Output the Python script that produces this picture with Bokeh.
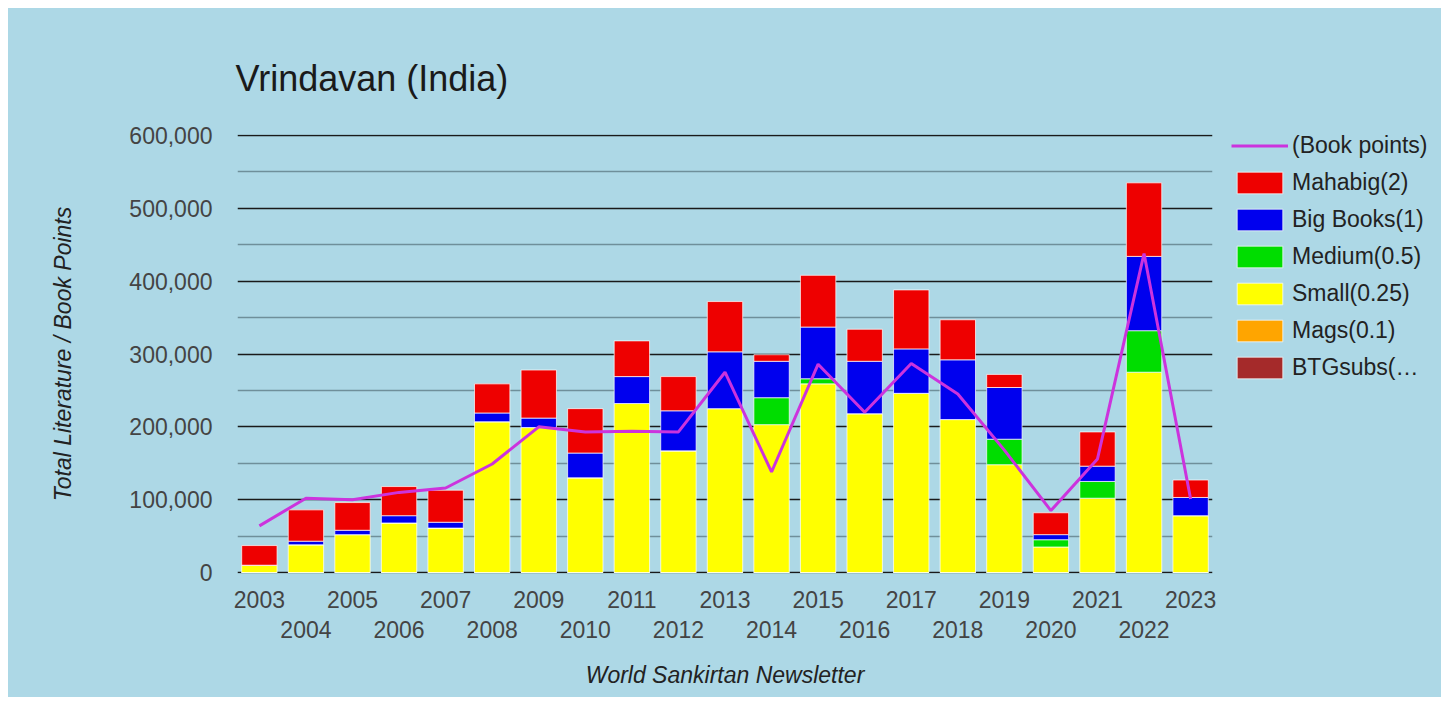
from bokeh.plotting import figure
from bokeh.layouts import row
from bokeh.models import (ColumnDataSource, Range1d, LinearAxis, FixedTicker,
                          NumeralTickFormatter, Legend, LegendItem)
from bokeh.embed import file_html
from bokeh.resources import INLINE

# ---------------- data ----------------
years = list(range(2003, 2024))
year_labels = [str(y) for y in years]
btgsubs = [0] * 21
mags = [0] * 21
small = [10000, 38000, 52000, 68000, 61000, 207000, 199000, 130000, 232000, 167000,
         225000, 203000, 259000, 218000, 246000, 210000, 148000, 35000, 102000, 275000, 78000]
medium = [0, 0, 0, 0, 0, 0, 0, 0, 0, 0,
          0, 37000, 7000, 0, 0, 0, 35000, 10000, 23000, 57000, 0]
big_books = [0, 5000, 6000, 10000, 8000, 12000, 13000, 34000, 37000, 55000,
             78000, 50000, 71000, 72000, 61000, 82000, 71000, 7000, 21000, 102000, 25000]
mahabig = [27000, 43000, 38000, 40000, 44000, 40000, 66000, 61000, 49000, 47000,
           69000, 9000, 71000, 44000, 81000, 55000, 18000, 30000, 47000, 101000, 24000]
book_points = [64000, 102000, 100000, 110000, 116000, 149000, 200000, 193000, 194000, 193000,
               275000, 138000, 286000, 220000, 287000, 245000, 168000, 85000, 156000, 438000, 101000]

series_keys = ["btgsubs", "mags", "small", "medium", "big_books", "mahabig"]
series_names = ["BTGsubs(\u2026", "Mags(0.1)", "Small(0.25)", "Medium(0.5)", "Big Books(1)", "Mahabig(2)"]
series_colors = ["#a52a2a", "#ffa500", "#ffff00", "#00dd00", "#0000ee", "#ee0000"]
line_name = "(Book points)"
line_color = "#cc33dd"
y_ticks = [0, 100000, 200000, 300000, 400000, 500000, 600000]
y_minor = [50000, 150000, 250000, 350000, 450000, 550000]

source = ColumnDataSource(dict(x=years, btgsubs=btgsubs, mags=mags, small=small, medium=medium,
                               big_books=big_books, mahabig=mahabig, points=book_points))

BG = "#add8e6"
FONT = "Liberation Sans"

# one pixel of slack above 600,000 and below 0 so that the edge grid lines are not clipped
px = 600000 / 437
p = figure(width=1214, height=689, output_backend="svg", toolbar_location=None,
           x_axis_location=None, margin=(8, 0, 8, 8), styles={"background-color": BG},
           x_range=Range1d(2002.53, 2023.47), y_range=Range1d(-px, 600000 + px),
           min_border_left=229, min_border_right=10, min_border_top=126, min_border_bottom=124,
           background_fill_color=BG, border_fill_color=BG, outline_line_color=None)

# title
p.title.text = "Vrindavan (India)"
p.title.text_font = FONT
p.title.text_font_size = "36px"
p.title.text_font_style = "normal"
p.title.text_color = "#1a1a1a"
p.title.standoff = 72
p.title.offset = -2

# y axis
yt = FixedTicker(ticks=y_ticks, minor_ticks=y_minor)
p.yaxis.ticker = yt
p.ygrid.ticker = yt
p.yaxis.formatter = NumeralTickFormatter(format="0,0")
p.yaxis.axis_line_color = None
p.yaxis.major_tick_line_color = None
p.yaxis.minor_tick_line_color = None
p.yaxis.major_tick_out = 0
p.yaxis.major_tick_in = 0
p.yaxis.major_label_standoff = 21
p.yaxis.major_label_text_font = FONT
p.yaxis.major_label_text_font_size = "23px"
p.yaxis.major_label_text_color = "#444444"
p.yaxis.axis_label = "Total Literature / Book Points"
p.yaxis.axis_label_text_font = FONT
p.yaxis.axis_label_text_font_size = "23px"
p.yaxis.axis_label_text_font_style = "italic"
p.yaxis.axis_label_text_color = "#222222"
p.yaxis.axis_label_standoff = 50

p.ygrid.grid_line_color = "#1a1a1a"
p.ygrid.grid_line_width = 1.5
p.ygrid.minor_grid_line_color = "#6f8f9a"
p.ygrid.minor_grid_line_width = 1.5
p.xgrid.visible = False

# two staggered x axes
odd_years = years[0::2]
even_years = years[1::2]
ax1 = LinearAxis(ticker=FixedTicker(ticks=odd_years),
                 major_label_overrides={y: l for y, l in zip(years, year_labels)})
ax2 = LinearAxis(ticker=FixedTicker(ticks=even_years),
                 major_label_overrides={y: l for y, l in zip(years, year_labels)},
                 axis_label="World Sankirtan Newsletter")
for ax, st in ((ax1, 17), (ax2, 10)):
    ax.axis_line_color = None
    ax.major_tick_line_color = None
    ax.minor_tick_line_color = None
    ax.major_tick_out = 0
    ax.major_tick_in = 0
    ax.major_label_standoff = st
    ax.major_label_text_font = FONT
    ax.major_label_text_font_size = "23px"
    ax.major_label_text_color = "#444444"
ax2.axis_label_text_font = FONT
ax2.axis_label_text_font_size = "23px"
ax2.axis_label_text_font_style = "italic"
ax2.axis_label_text_color = "#222222"
ax2.axis_label_standoff = 21
p.add_layout(ax1, "below")
p.add_layout(ax2, "below")

# stacked bars + book-points line
bars = p.vbar_stack(series_keys, x="x", width=0.76, source=source, color=series_colors,
                    line_color="white", line_width=1, line_alpha=0.7)
line_r = p.line(x="x", y="points", source=source, line_color=line_color, line_width=3)

# ---------------- legend panel (separate figure to the right) ----------------
lg = figure(width=219, height=689, output_backend="svg", toolbar_location=None,
            x_axis_location=None, y_axis_location=None, margin=(8, 8, 8, 0),
            styles={"background-color": BG},
            x_range=Range1d(0, 1), y_range=Range1d(0, 1),
            min_border_left=0, min_border_right=0, min_border_top=0, min_border_bottom=0,
            background_fill_color=BG, border_fill_color=BG, outline_line_color=None)
lg.xgrid.visible = False
lg.ygrid.visible = False

legend_vy = 191
try:
    p.frame_align = False
    lg.frame_align = False
    legend_vy = 316
except AttributeError:
    pass

# swatch-only renderers: a single point placed outside the visible range
swatch = ColumnDataSource(dict(x=[5], y=[0]))
items = [LegendItem(label=line_name,
                    renderers=[lg.line(x="x", y="y", source=swatch, line_color=line_color, line_width=3)])]
for name, col in reversed(list(zip(series_names, series_colors))):
    r = lg.vbar(x="x", top="y", width=0.5, source=swatch, fill_color=col,
                line_color="white", line_width=1, line_alpha=0.7)
    items.append(LegendItem(label=name, renderers=[r]))

legend = Legend(items=items, location=(9, legend_vy), glyph_width=57, glyph_height=27,
                label_height=27, spacing=10, padding=0, margin=0, label_standoff=4,
                label_text_font=FONT, label_text_font_size="23px", label_text_color="#222222",
                border_line_color=None, background_fill_alpha=0)
lg.add_layout(legend)

layout = row(p, lg, spacing=0)
open("out.html", "w").write(file_html(layout, INLINE))
